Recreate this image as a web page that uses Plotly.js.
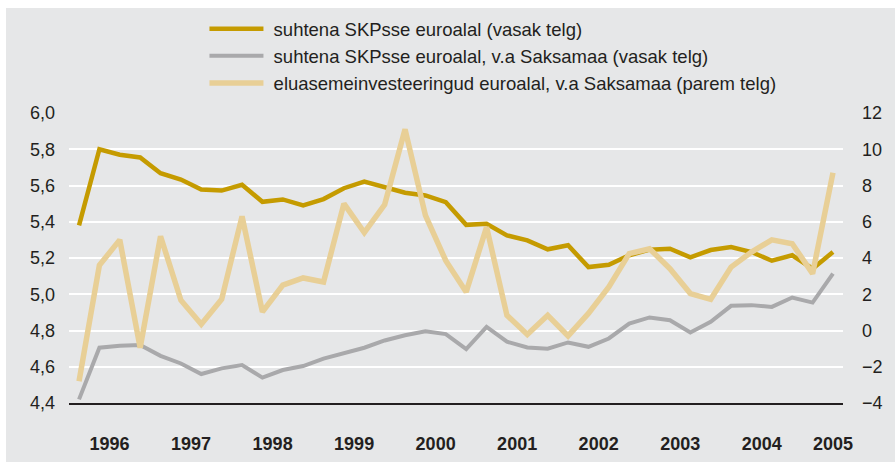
<!DOCTYPE html>
<html>
<head>
<meta charset="utf-8">
<script src="https://cdn.plot.ly/plotly-3.0.1.min.js"></script>
<style>
html,body{margin:0;padding:0;background:#ffffff;}
#chart{position:absolute;left:6px;top:8px;width:889px;height:454px;}
</style>
</head>
<body>
<div id="chart"></div>
<script>
const quarters = ["1996Q1","1996Q2","1996Q3","1996Q4","1997Q1","1997Q2","1997Q3","1997Q4",
  "1998Q1","1998Q2","1998Q3","1998Q4","1999Q1","1999Q2","1999Q3","1999Q4",
  "2000Q1","2000Q2","2000Q3","2000Q4","2001Q1","2001Q2","2001Q3","2001Q4",
  "2002Q1","2002Q2","2002Q3","2002Q4","2003Q1","2003Q2","2003Q3","2003Q4",
  "2004Q1","2004Q2","2004Q3","2004Q4","2005Q1","2005Q2"];

const euroArea = [5.38,5.80,5.77,5.755,5.668,5.633,5.578,5.572,5.604,5.51,5.523,5.49,5.525,5.585,5.622,5.594,
  5.56,5.545,5.508,5.383,5.389,5.325,5.297,5.248,5.27,5.15,5.163,5.215,5.246,5.251,5.204,5.244,
  5.26,5.233,5.185,5.215,5.141,5.233];

const euroAreaExDE = [4.42,4.705,4.716,4.72,4.66,4.618,4.56,4.591,4.609,4.54,4.582,4.604,4.645,4.673,4.705,4.745,
  4.774,4.796,4.78,4.697,4.82,4.738,4.706,4.70,4.734,4.71,4.756,4.838,4.872,4.857,4.789,4.848,
  4.936,4.94,4.93,4.982,4.954,5.114];

const housingInvExDE = [-2.8,3.6,5.0,-0.95,5.2,1.67,0.35,1.72,6.3,1.03,2.5,2.9,2.68,7.0,5.4,6.95,
  11.1,6.35,3.85,2.13,5.7,0.84,-0.22,0.84,-0.3,0.94,2.4,4.24,4.51,3.41,2.04,1.72,
  3.5,4.33,5.0,4.79,3.14,8.7];

const yearTickVals = [1996.375,1997.375,1998.375,1999.375,2000.375,2001.375,2002.375,2003.375,2004.375,2005.25];
const yearTickText = ["1996","1997","1998","1999","2000","2001","2002","2003","2004","2005"];

const names = [
  "suhtena SKPsse euroalal (vasak telg)",
  "suhtena SKPsse euroalal, v.a Saksamaa (vasak telg)",
  "eluasemeinvesteeringud euroalal, v.a Saksamaa (parem telg)"
];

const x = quarters.map(q => parseInt(q.slice(0,4)) + (parseInt(q.slice(5)) - 1) / 4);

const FONT = "Liberation Sans, Arial, Helvetica, sans-serif";
const TXT = "#231f20";
const PAD = "\u00a0";

const traces = [
  {x: x, y: housingInvExDE, yaxis: "y2", type: "scatter", mode: "lines", name: PAD + names[2],
   legendgroup: "c", legendrank: 3,
   line: {color: "#e8cf96", width: 5.5}},
  {x: x, y: euroAreaExDE, yaxis: "y", type: "scatter", mode: "lines", name: PAD + names[1],
   legendgroup: "b", legendrank: 2,
   line: {color: "#a9a9ab", width: 4}},
  {x: x, y: euroArea, yaxis: "y", type: "scatter", mode: "lines", name: PAD + names[0],
   legendgroup: "a", legendrank: 1,
   line: {color: "#c59b00", width: 4.5}}
];

const layout = {
  width: 889, height: 454,
  margin: {l: 63, r: 52, t: 105, b: 59, pad: 0},
  paper_bgcolor: "#e6e7e8",
  plot_bgcolor: "#e6e7e8",
  separators: ", ",
  font: {family: FONT, size: 18, color: TXT},
  showlegend: true,
  legend: {
    x: 0.175, xanchor: "left", y: 0.995, yref: "container", yanchor: "top",
    bgcolor: "rgba(0,0,0,0)", font: {family: FONT, size: 18.5, color: TXT},
    itemwidth: 54, tracegroupgap: 0, traceorder: "grouped"
  },
  xaxis: {
    range: [1995.877, 2005.373],
    tickmode: "array", tickvals: yearTickVals, ticktext: yearTickText,
    tickfont: {family: FONT, size: 18, color: TXT, weight: "bold"},
    showgrid: false, zeroline: false,
    showline: true, linecolor: "#231f20", linewidth: 2,
    ticks: "", ticklabelstandoff: 23
  },
  yaxis: {
    range: [4.4, 6.0], dtick: 0.2, tick0: 4.4, tickformat: ".1f",
    showgrid: true, gridcolor: "#ffffff", gridwidth: 2,
    zeroline: false, showline: false, ticks: "",
    tickfont: {family: FONT, size: 18, color: TXT},
    ticklabelstandoff: 13
  },
  yaxis2: {
    range: [-4, 12], dtick: 2, tick0: -4,
    overlaying: "y", side: "right",
    showgrid: false, zeroline: false, showline: false, ticks: "",
    tickfont: {family: FONT, size: 18, color: TXT},
    ticklabelstandoff: 18
  }
};

Plotly.newPlot("chart", traces, layout, {displayModeBar: false, staticPlot: true});
</script>
</body>
</html>
